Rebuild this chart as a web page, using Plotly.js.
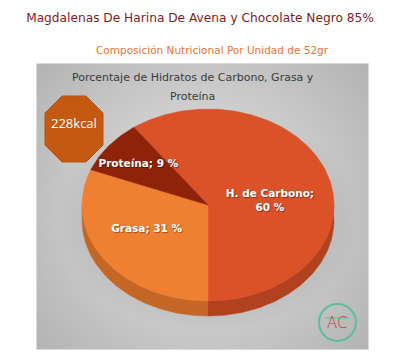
<!DOCTYPE html>
<html>
<head>
<meta charset="utf-8">
<script src="https://cdn.plot.ly/plotly-3.0.1.min.js"></script>
<style>
  html, body { margin: 0; padding: 0; background: #ffffff; }
  #wrap { position: relative; width: 400px; height: 363px; overflow: hidden; }
  #panel {
    position: absolute; left: 36px; top: 63px; width: 333px; height: 287px;
    box-sizing: border-box; border: 1px solid #d9d9d9;
    background:
      radial-gradient(ellipse 150px 112px at 172px 156px, rgba(0,0,0,0.09) 0%, rgba(0,0,0,0.06) 80%, rgba(0,0,0,0) 100%),
      radial-gradient(circle at 50% 50%, #dbdbdb 0%, #d1d1d1 40%, #b3b3b3 100%);
  }
  #chart { position: absolute; left: 0; top: 0; width: 400px; height: 363px; }
</style>
</head>
<body>
<div id="wrap">
  <div id="panel"></div>
  <div id="chart"></div>
</div>
<script>
// ---- data ----
const categories = ['H. de Carbono', 'Grasa', 'Proteína'];
const percentages = [60, 31, 9];
const sliceColors = ['#DB5128', '#EF7F31', '#8F230A'];
const sideColors = ['#B1411F', '#C46726', '#6E1A06'];
const labelSeparators = ['<br>', ' ', ' '];
const energyLabel = '228kcal';
const titleText = 'Magdalenas De Harina De Avena y Chocolate Negro 85%';
const subtitleText = 'Composición Nutricional Por Unidad de 52gr';
const chartTitleLines = ['Porcentaje de Hidratos de Carbono, Grasa y', 'Proteína'];

// ---- geometry (style) ----
const cx = 208, cy = 205, ra = 126, rb = 96, depth = 15;
const startDeg = -36;
const labelRadius = [0.5, 0.56, 0.7];
const labelOffsets = [[2, 11], [-3, -6], [0, 1]];
const labelFont = 'DejaVu Sans';

function pt(deg, r) {
  const t = deg * Math.PI / 180;
  return [cx + r * ra * Math.sin(t), cy - r * rb * Math.cos(t)];
}
function arc(a0, a1, r, dy) {
  const xs = [], ys = [];
  const n = Math.max(2, Math.ceil(Math.abs(a1 - a0)));
  for (let i = 0; i <= n; i++) {
    const a = a0 + (a1 - a0) * i / n;
    const p = pt(a, r);
    xs.push(p[0]); ys.push(p[1] + (dy || 0));
  }
  return [xs, ys];
}

const total = percentages.reduce((s, v) => s + v, 0);
const sideTraces = [], topTraces = [];
const lx = [], ly = [], lt = [];
let acc = startDeg;
percentages.forEach((v, i) => {
  const a0 = acc, a1 = acc + v / total * 360;
  acc = a1;
  for (const off of [-360, 0, 360]) {
    const s = Math.max(a0 + off, 90), e = Math.min(a1 + off, 270);
    if (e > s) {
      const top = arc(s, e, 1, 0), bot = arc(e, s, 1, depth);
      sideTraces.push({
        type: 'scatter', mode: 'lines', fill: 'toself',
        x: top[0].concat(bot[0]), y: top[1].concat(bot[1]),
        fillcolor: sideColors[i], line: { width: 0.5, color: sideColors[i] },
        hoverinfo: 'skip'
      });
    }
  }
  const face = arc(a0, a1, 1, 0);
  topTraces.push({
    type: 'scatter', mode: 'lines', fill: 'toself',
    x: [cx].concat(face[0], [cx]), y: [cy].concat(face[1], [cy]),
    fillcolor: sliceColors[i], line: { width: 0.5, color: sliceColors[i] },
    name: categories[i], hoverinfo: 'name'
  });
  const mid = (a0 + a1) / 2;
  const lp = pt(mid, labelRadius[i]);
  lx.push(lp[0] + labelOffsets[i][0]); ly.push(lp[1] + labelOffsets[i][1]);
  lt.push(categories[i] + ';' + labelSeparators[i] + percentages[i] + ' %');
});

const labelTrace = {
  type: 'scatter', mode: 'text', x: lx, y: ly, text: lt,
  textposition: 'middle center',
  textfont: { family: labelFont, size: 10.5, color: '#ffffff', weight: 600,
              shadow: '1px 1px 1px rgba(0,0,0,0.35)' },
  hoverinfo: 'skip'
};

const layout = {
  width: 400, height: 363,
  margin: { l: 0, r: 0, t: 0, b: 0 },
  paper_bgcolor: 'rgba(0,0,0,0)', plot_bgcolor: 'rgba(0,0,0,0)',
  showlegend: false,
  xaxis: { range: [0, 400], visible: false, fixedrange: true },
  yaxis: { range: [363, 0], visible: false, fixedrange: true },
  title: {
    text: titleText, x: 0.5, xanchor: 'center',
    y: 1 - 18 / 363, yref: 'container', yanchor: 'middle',
    font: { family: labelFont, size: 12.2, color: '#7E1D1D' }
  },
  shapes: [
    { type: 'path', xref: 'x', yref: 'y',
      path: 'M62,96 L86,96 L103,113 L103,145 L86,162 L62,162 L45,145 L45,113 Z',
      fillcolor: '#C45A12', line: { color: '#B35218', width: 1 } },
    { type: 'circle', xref: 'x', yref: 'y', x0: 319, x1: 356, y0: 304, y1: 341,
      line: { color: '#5DBE9C', width: 2 }, fillcolor: 'rgba(0,0,0,0)' },
    { type: 'line', xref: 'x', yref: 'y', x0: 325, x1: 349, y0: 318, y1: 318,
      line: { color: '#5DBE9C', width: 1 } }
  ],
  annotations: [
    { text: subtitleText, x: 212, y: 50, xref: 'x', yref: 'y', showarrow: false,
      xanchor: 'center', yanchor: 'middle',
      font: { family: labelFont, size: 10.5, color: '#EC7434' } },
    { text: chartTitleLines[0], x: 193, y: 77, xref: 'x', yref: 'y', showarrow: false,
      xanchor: 'center', yanchor: 'middle',
      font: { family: labelFont, size: 11, color: '#3A3A3A' } },
    { text: chartTitleLines[1], x: 192, y: 96, xref: 'x', yref: 'y', showarrow: false,
      xanchor: 'center', yanchor: 'middle',
      font: { family: labelFont, size: 11, color: '#3A3A3A' } },
    { text: energyLabel, x: 74, y: 123, xref: 'x', yref: 'y', showarrow: false,
      xanchor: 'center', yanchor: 'middle',
      font: { family: 'Open Sans', size: 13, color: '#ffffff' } },
    { text: 'AC', x: 337, y: 323, xref: 'x', yref: 'y', showarrow: false,
      xanchor: 'center', yanchor: 'middle',
      font: { family: 'DejaVu Sans', size: 15, color: '#C0392B', weight: 300 } }
  ]
};

Plotly.newPlot('chart', sideTraces.concat(topTraces, [labelTrace]), layout,
  { staticPlot: true, displayModeBar: false });
</script>
</body>
</html>
